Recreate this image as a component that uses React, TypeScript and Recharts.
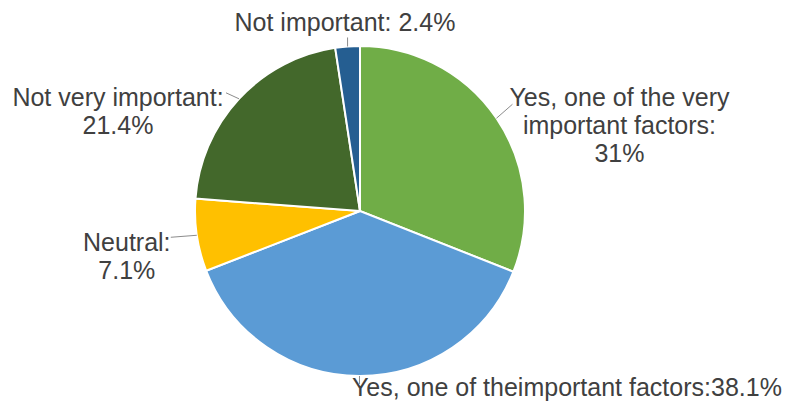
import React from "react";
import { PieChart, Pie, Cell } from "recharts";

const categories = [
  "Yes, one of the very important factors",
  "Yes, one of theimportant factors",
  "Neutral",
  "Not very important",
  "Not important",
];
const values = [31, 38.1, 7.1, 21.4, 2.4];
const labelLines = [
  ["Yes, one of the very", "important factors:", "31%"],
  ["Yes, one of theimportant factors:38.1%"],
  ["Neutral:", "7.1%"],
  ["Not very important:", "21.4%"],
  ["Not important: 2.4%"],
];
const colors = ["#70AD47", "#5B9BD5", "#FFC000", "#43682B", "#255E91"];

// label layout offsets relative to the slice's outer edge point
const labelLayout = [
  { tx: 123, ty: -12, anchor: "middle", lx: 16, ly: -14 },
  { tx: -7.5, ty: 20, anchor: "start", lx: 0, ly: 8 },
  { tx: -70, ty: 16, anchor: "middle", lx: -26, ly: 2 },
  { tx: -121, ty: 7, anchor: "middle", lx: -13, ly: -6 },
  { tx: -2.6, ty: -15, anchor: "middle", lx: 0, ly: -9 },
];

const data = categories.map((name, i) => ({ name, value: values[i] }));

const RADIAN = Math.PI / 180;

const renderLabel = (props: any) => {
  const { cx, cy, midAngle, outerRadius, index } = props;
  const ex = cx + outerRadius * Math.cos(-midAngle * RADIAN);
  const ey = cy + outerRadius * Math.sin(-midAngle * RADIAN);
  const l = labelLayout[index];
  const lines = labelLines[index];
  return (
    <g key={"lbl" + index}>
      <line
        x1={ex}
        y1={ey}
        x2={ex + l.lx}
        y2={ey + l.ly}
        stroke="#8c8c8c"
        strokeWidth={1}
      />
      <text
        x={ex + l.tx}
        y={ey + l.ty}
        textAnchor={l.anchor as any}
        fill="#404040"
        fontSize={25}
        fontFamily="'Liberation Sans', Arial, sans-serif"
      >
        {lines.map((t, j) => (
          <tspan key={j} x={ex + l.tx} dy={j === 0 ? 0 : 28}>
            {t}
          </tspan>
        ))}
      </text>
    </g>
  );
};

export default function App() {
  return (
    <div style={{ position: "absolute", left: 0, top: 0, background: "#fff" }}>
      <PieChart width={785} height={404} margin={{ top: 0, right: 0, bottom: 0, left: 0 }}>
        <Pie
          data={data}
          dataKey="value"
          nameKey="name"
          cx={360}
          cy={211}
          outerRadius={165}
          startAngle={90}
          endAngle={-270}
          stroke="#ffffff"
          strokeWidth={2}
          label={renderLabel}
          labelLine={false}
          isAnimationActive={false}
        >
          {data.map((d, i) => (
            <Cell key={d.name} fill={colors[i]} />
          ))}
        </Pie>
      </PieChart>
    </div>
  );
}
